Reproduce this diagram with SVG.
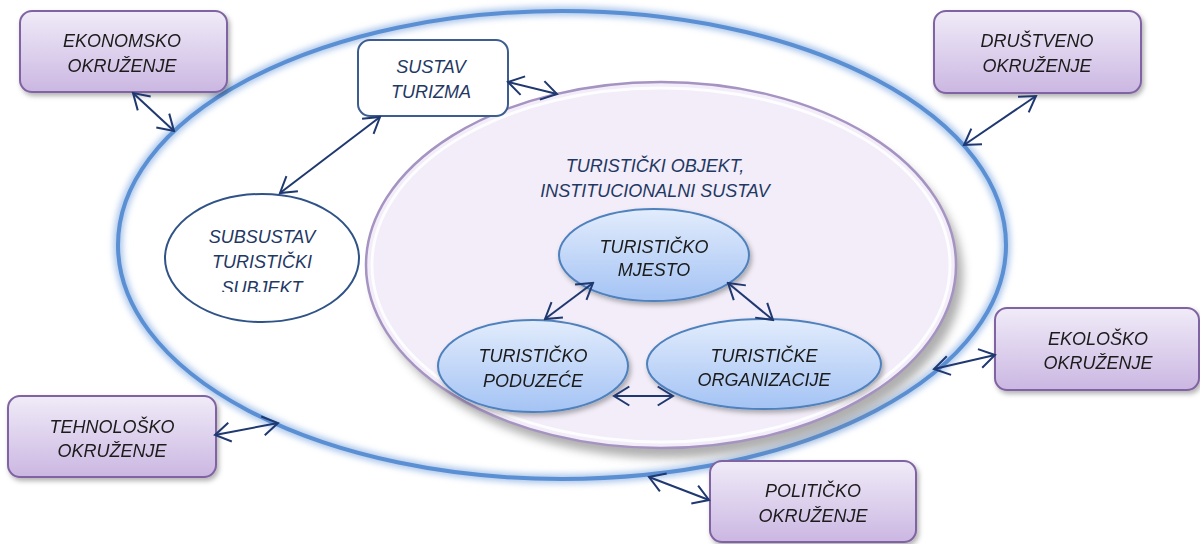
<svg xmlns="http://www.w3.org/2000/svg" width="1200" height="544" viewBox="0 0 1200 544">
<style>
.env rect{fill:url(#envG);stroke:#8064a2;stroke-width:2}
.envt{font-family:"Liberation Sans",Arial,sans-serif;font-style:italic;font-size:18px;fill:#1a1a1a;text-anchor:middle}
.navyt{font-family:"Liberation Sans",Arial,sans-serif;font-style:italic;font-size:18px;fill:#1f3864;text-anchor:middle}
.blue ellipse{fill:url(#blueG);stroke:#4f81bd;stroke-width:2}
.conn line{stroke:#1f3870;stroke-width:2;marker-start:url(#ah);marker-end:url(#ah)}
</style>
<defs>
<linearGradient id="envG" x1="0" y1="0" x2="0" y2="1">
<stop offset="0" stop-color="#f0ebf8"/><stop offset="1" stop-color="#cbb7e2"/>
</linearGradient>
<linearGradient id="blueG" x1="0" y1="0" x2="0" y2="1">
<stop offset="0" stop-color="#e2ecfc"/><stop offset="1" stop-color="#a4c3f4"/>
</linearGradient>
<filter id="sh" x="-20%" y="-20%" width="140%" height="150%">
<feDropShadow dx="2" dy="3" stdDeviation="2.5" flood-color="#000" flood-opacity="0.3"/>
</filter>
<filter id="blur3" x="-10%" y="-10%" width="120%" height="120%"><feGaussianBlur stdDeviation="3"/></filter>
<filter id="blur5" x="-10%" y="-10%" width="120%" height="130%"><feGaussianBlur stdDeviation="5"/></filter>
<clipPath id="subClip"><rect x="150" y="190" width="220" height="102"/></clipPath>
<marker id="ah" viewBox="0 0 18 22" refX="16.3" refY="11" markerWidth="18" markerHeight="22" markerUnits="userSpaceOnUse" orient="auto-start-reverse">
<path d="M1,1.5 L16.3,11 L1,20.5" fill="none" stroke="#1f3870" stroke-width="2"/>
</marker>
</defs>

<g id="outer-system">
<ellipse cx="562" cy="245" rx="444" ry="234" fill="none" stroke="#a9c4ea" stroke-width="9" filter="url(#blur3)"/>
<ellipse cx="562" cy="245" rx="444" ry="234" fill="none" stroke="#5a8fd3" stroke-width="4"/>
</g>

<g id="inner-system">
<ellipse cx="668" cy="275" rx="295" ry="183" fill="#7a7a7a" opacity="0.6" filter="url(#blur5)"/>
<ellipse cx="661" cy="265" rx="295" ry="183" fill="#f2edf8" stroke="#a593c2" stroke-width="2.5"/>
<ellipse cx="661" cy="265" rx="289" ry="177" fill="none" stroke="#ffffff" stroke-width="3" opacity="0.8"/>
<text class="navyt" x="655" y="172">TURISTIČKI OBJEKT,</text>
<text class="navyt" x="655" y="197">INSTITUCIONALNI SUSTAV</text>
</g>

<g id="sustav-turizma">
<rect x="358" y="40" width="150" height="76" rx="12" fill="#ffffff" stroke="#3b5d8f" stroke-width="2"/>
<text class="navyt" x="431" y="73">SUSTAV</text>
<text class="navyt" x="431" y="98">TURIZMA</text>
</g>

<g id="subsustav">
<ellipse cx="262" cy="258" rx="97" ry="64" fill="#ffffff" stroke="#2f5287" stroke-width="2"/>
<text class="navyt" x="262" y="243">SUBSUSTAV</text>
<text class="navyt" x="262" y="268">TURISTIČKI</text>
<text class="navyt" x="262" y="294" clip-path="url(#subClip)">SUBJEKT</text>
</g>

<g id="turisticko-mjesto" class="blue" filter="url(#sh)">
<ellipse cx="654" cy="255" rx="95" ry="46"/>
<text class="envt" x="654" y="253">TURISTIČKO</text>
<text class="envt" x="654" y="276">MJESTO</text>
</g>

<g id="turisticko-poduzece" class="blue" filter="url(#sh)">
<ellipse cx="533" cy="366" rx="95" ry="46"/>
<text class="envt" x="533" y="362">TURISTIČKO</text>
<text class="envt" x="533" y="387">PODUZEĆE</text>
</g>

<g id="turisticke-organizacije" class="blue" filter="url(#sh)">
<ellipse cx="764" cy="364" rx="117" ry="45"/>
<text class="envt" x="764" y="362">TURISTIČKE</text>
<text class="envt" x="764" y="386">ORGANIZACIJE</text>
</g>

<g id="ekonomsko" class="env" filter="url(#sh)">
<rect x="20" y="11" width="207" height="81" rx="12"/>
<text class="envt" x="122" y="47">EKONOMSKO</text>
<text class="envt" x="122" y="72">OKRUŽENJE</text>
</g>

<g id="drustveno" class="env" filter="url(#sh)">
<rect x="934" y="11" width="207" height="82" rx="12"/>
<text class="envt" x="1037" y="47">DRUŠTVENO</text>
<text class="envt" x="1037" y="72">OKRUŽENJE</text>
</g>

<g id="ekolosko" class="env" filter="url(#sh)">
<rect x="995" y="308" width="204" height="82" rx="12"/>
<text class="envt" x="1098" y="345">EKOLOŠKO</text>
<text class="envt" x="1098" y="369">OKRUŽENJE</text>
</g>

<g id="tehnolosko" class="env" filter="url(#sh)">
<rect x="8" y="396" width="208" height="81" rx="12"/>
<text class="envt" x="112" y="433">TEHNOLOŠKO</text>
<text class="envt" x="112" y="457">OKRUŽENJE</text>
</g>

<g id="politicko" class="env" filter="url(#sh)">
<rect x="710" y="461" width="206" height="81" rx="12"/>
<text class="envt" x="813" y="497">POLITIČKO</text>
<text class="envt" x="813" y="522">OKRUŽENJE</text>
</g>

<g id="connectors" class="conn">
<line x1="133" y1="93" x2="174" y2="131"/>
<line x1="380" y1="117" x2="280" y2="193"/>
<line x1="508" y1="82" x2="557" y2="94"/>
<line x1="1036" y1="96" x2="964" y2="145"/>
<line x1="995" y1="355" x2="934" y2="369"/>
<line x1="215" y1="435" x2="278" y2="423"/>
<line x1="649" y1="477" x2="709" y2="500"/>
<line x1="593" y1="283" x2="545" y2="319"/>
<line x1="728" y1="283" x2="773" y2="320"/>
<line x1="614" y1="396" x2="673" y2="396"/>
</g>
</svg>
